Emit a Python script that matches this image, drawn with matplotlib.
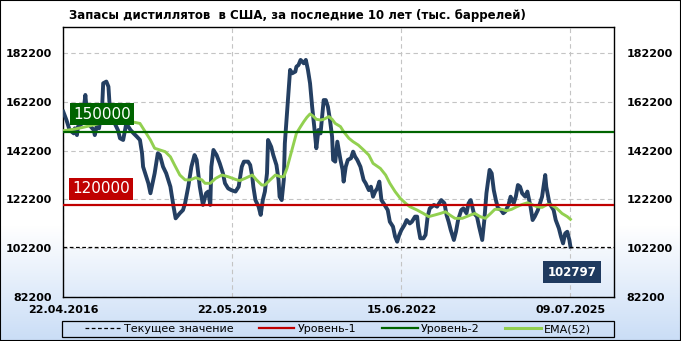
import matplotlib
matplotlib.use("Agg")
import matplotlib.pyplot as plt
import matplotlib.transforms as mtransforms
from matplotlib.patches import Rectangle
from matplotlib.lines import Line2D
import numpy as np

# weekly stocks, week index counted from 22.04.2016
weeks = [0, 3, 6, 10, 11, 13, 14, 18, 21, 22, 25, 29, 30, 32, 34, 37, 38, 41, 43, 44,
         48, 49, 52, 54, 57, 60, 64, 67, 70, 73, 75, 76, 79, 81, 83, 85, 87, 90, 92, 95,
         98, 102, 105, 107, 111, 114, 116, 119, 122, 125,
         127, 130, 133, 136, 138, 140, 141, 143, 146, 149, 152, 154, 157, 160, 164, 167,
         168, 170, 172, 176, 178, 180, 181, 183, 186, 188, 190, 192, 194, 195, 198, 200,
         203, 205, 206, 208, 210, 211, 214, 216, 218, 221, 222, 224, 226, 229, 231, 233,
         235, 237, 239, 241, 243, 245, 248, 250, 252, 254, 256, 257, 259,
         261, 264, 266, 267, 269, 271, 274, 276, 278, 280, 283, 286, 288, 291, 293, 295,
         297, 299, 301, 303, 306, 309, 311, 314, 316, 318, 320, 322, 325, 327, 330, 332,
         335, 337, 338, 340, 343, 345, 347, 349, 351, 353, 356, 358, 360, 363, 365, 367,
         369, 372, 374, 376, 379, 381, 384, 386,
         388, 391, 394, 396, 399, 401, 403, 406, 408, 410, 412, 414, 417, 419, 421, 424,
         426, 429, 431, 433, 435, 437, 440, 442, 445, 447, 449, 452, 454, 456, 459, 460,
         463, 465, 467, 469, 472, 474, 476, 478, 480, 482, 483]
stocks = [158200, 154800, 150700, 149300, 151400, 148600, 152100, 153400, 165100, 160300,
          152700, 150700, 148600, 152700, 151400, 160300, 169900, 170600, 168500, 161700,
          158200, 153400, 150700, 147300, 146600, 153400, 150700, 149300, 148000, 146600,
          141100, 135600, 131500, 128800, 124700, 128800, 132900, 141100, 140400, 135600,
          132900, 127400, 119200, 114400, 116500, 117800, 120600, 127400, 135600, 140400,
          138400, 127400, 119900, 124700, 125400, 119900, 135600, 142500, 140400, 137000,
          132900, 128800, 126700, 126000, 125400, 127400, 130200, 135600, 137700, 137700,
          136300, 131500, 127400, 121900, 119200, 115800, 121900, 125400, 132900, 146600,
          143800, 140400, 136300, 130200, 123300, 121900, 130200, 145200, 163000, 175400,
          174000, 174700, 176700, 177400, 179500, 178100, 179500, 175400, 169900, 160300,
          152100, 143200, 150700, 149300, 163000, 163000, 160300, 154800, 148000, 138400,
          137700,
          145900, 138400, 134300, 129500, 135600, 138400, 139100, 141800, 139700, 138400,
          135600, 130200, 128800, 126000, 127400, 123300, 125400, 126700, 129500, 121900,
          119900, 117800, 113000, 111000, 106900, 104800, 107600, 109600, 111700, 113700,
          112300, 113000, 115100, 115100, 111000, 106200, 106200, 107600, 115100, 118500,
          119200, 119900, 119200, 120600, 121900, 120600, 115800, 113000, 109600, 105500,
          108900, 113700, 117800, 118500, 116500, 120600,
          121900, 116500, 115100, 111000, 105500, 113700, 124700, 134300, 132900, 126000,
          121900, 118500, 117800, 116500, 117200, 119900, 123300, 120600, 123300, 128100,
          127400, 124700, 123300, 125400, 119200, 113700, 115100, 117800, 120600, 123300,
          132200, 127400, 120600, 119200, 117800, 113700, 110300, 106900, 104100, 108200,
          108900, 105500, 102797]

# EMA(52) as drawn on the chart
ema_weeks = [0, 10, 19, 28, 40, 55, 66, 73, 78, 83, 87, 92, 97, 102, 106, 111, 116, 121,
             126, 132, 135, 140, 145, 151, 157, 164, 168, 173, 180, 184, 189, 192, 197,
             202, 207, 210, 213, 216, 219, 222, 226, 229, 232, 235, 238, 241, 245, 248,
             253, 256, 259, 264, 267, 272, 276, 281, 286, 291, 295, 302, 307, 311, 316,
             321, 326, 330, 337, 343, 348, 354, 359, 364, 368, 373, 380, 384, 388, 392,
             397, 402, 407, 411, 418, 422, 427, 432, 437, 442, 446, 451, 456, 461, 465,
             470, 475, 480, 483]
ema = [150400, 151000, 151800, 152700, 154000, 154500, 154000, 153400, 150000, 146600,
       143200, 142500, 141800, 139700, 136300, 132200, 130200, 130200, 131100, 130200,
       128800, 128800, 130800, 132200, 131500, 130400, 129900, 130800, 132200, 130200,
       128100, 128100, 130200, 132200, 131500, 131500, 134900, 139700, 144500, 149300,
       152100, 154100, 155900, 157300, 156400, 155100, 154800, 155100, 156200, 155100,
       153400, 152100, 150000, 147300, 145900, 144500, 142500, 140400, 137000, 134900,
       132200, 128800, 125400, 122600, 120600, 119200, 117800, 116400, 115100, 115800,
       116400, 117100, 115800, 114400, 114400, 115100, 115800, 116400, 115100, 114400,
       116400, 118100, 118100, 117500, 118100, 119200, 120100, 120800, 120100, 119200,
       118900, 120100, 119900, 118500, 116400, 115100, 114000]

level1 = 120000
level2 = 150000
current = stocks[-1]

tick_weeks = [0, 161, 322, 483]
tick_dates = ["22.04.2016", "22.05.2019", "15.06.2022", "09.07.2025"]
yticks = [82200, 102200, 122200, 142200, 162200, 182200]

title = "Запасы дистиллятов  в США, за последние 10 лет (тыс. баррелей)"
legend_labels = ["Текущее значение", "Уровень-1", "Уровень-2", "EMA(52)"]

c_stock = "#243f62"
c_ema = "#92d050"
c_red = "#c00000"
c_green = "#006400"
c_box = "#1f3a5f"

plt.rcParams["font.family"] = "DejaVu Sans"

fig = plt.figure(figsize=(6.81, 3.41), dpi=100)

# background: white fading to light blue at the bottom
bg = fig.add_axes([0, 0, 1, 1], zorder=-10)
rows = 341
t = np.clip((np.arange(rows) - 225) / (rows - 225), 0, 1)
top_c = np.array([1.0, 1.0, 1.0])
bot_c = np.array([0.79, 0.866, 0.965])
grad = top_c[None, :] * (1 - t[:, None]) + bot_c[None, :] * t[:, None]
bg.imshow(grad[:, None, :], aspect="auto", extent=(0, 1, 0, 1))
bg.axis("off")

ax = fig.add_axes([63.3 / 681, 44.3 / 341, 550.7 / 681, 269.4 / 341])
ax.set_facecolor("none")
ax.set_xlim(0, 524.5)
ax.set_ylim(82200, 192900)

ax.axhspan(current, 192900, color="white", zorder=0)

ax.set_yticks(yticks)
ax.set_yticklabels([str(v) for v in yticks], fontweight="bold", fontsize=8)
ax.set_xticks(tick_weeks)
ax.set_xticklabels(tick_dates, fontweight="bold", fontsize=8)
ax.tick_params(axis="y", length=0, pad=8)
ax.tick_params(axis="x", length=0, pad=6)
ax.grid(True, color="#c4c4c4", linestyle=(0, (4, 3)), linewidth=0.8, zorder=1)
for s in ax.spines.values():
    s.set_color("black")
    s.set_linewidth(1)

ax.plot(weeks, stocks, color=c_stock, lw=2.8, solid_joinstyle="round", zorder=3)
ax.plot(ema_weeks, ema, color=c_ema, lw=2.1, zorder=4)
ax.axhline(level2, color=c_green, lw=1.6, zorder=5)
ax.axhline(level1, color=c_red, lw=1.6, zorder=5)
ax.axhline(current, color="black", lw=0.9, linestyle=(0, (3, 2)), zorder=5)

ax2 = ax.twinx()
ax2.set_ylim(ax.get_ylim())
ax2.set_yticks(yticks)
ax2.set_yticklabels([str(v) for v in yticks], fontweight="bold", fontsize=8)
ax2.tick_params(axis="y", length=0, pad=9)
for s in ax2.spines.values():
    s.set_visible(False)

# value boxes
blend = mtransforms.blended_transform_factory(ax.transAxes, ax.transData)
tr = mtransforms.offset_copy(blend, fig=fig, x=10, y=10, units="dots")
ax.text(0, level2, str(level2), transform=tr, ha="left", va="bottom", fontsize=11,
        color="white", zorder=6,
        bbox=dict(boxstyle="square,pad=0.22", fc=c_green, ec="none"))
tr = mtransforms.offset_copy(blend, fig=fig, x=9, y=8.5, units="dots")
ax.text(0, level1, str(level1), transform=tr, ha="left", va="bottom", fontsize=11,
        color="white", zorder=6,
        bbox=dict(boxstyle="square,pad=0.22", fc=c_red, ec="none"))
tr = mtransforms.offset_copy(blend, fig=fig, x=-17.5, y=-19, units="dots")
ax.text(1, current, str(current), transform=tr, ha="right", va="top", fontsize=8.5,
        fontweight="bold", color="white", zorder=6,
        bbox=dict(boxstyle="square,pad=0.37", fc=c_box, ec="none"))

fig.text(69 / 681, 1 - 15 / 341, title, ha="left", va="center", fontsize=8.5,
         fontweight="bold")

handles = [Line2D([], [], color="black", lw=0.9, linestyle=(0, (3, 2))),
           Line2D([], [], color=c_red, lw=1.6),
           Line2D([], [], color=c_green, lw=1.6),
           Line2D([], [], color=c_ema, lw=2.2)]
fig.legend(handles, legend_labels, loc="center", bbox_to_anchor=(338 / 681, 1 - 329 / 341),
           ncol=4, frameon=False, fontsize=8, handlelength=3.2, handletextpad=0.3,
           columnspacing=2.3)
fig.patches.append(Rectangle((62.3 / 681, 4 / 341), 551.7 / 681, 16 / 341,
                             transform=fig.transFigure, fill=False, ec="black", lw=0.9))
fig.patches.append(Rectangle((0, 0), 1, 1, transform=fig.transFigure, fill=False,
                             ec="black", lw=1.5))

fig.savefig("out.png", dpi=100)
